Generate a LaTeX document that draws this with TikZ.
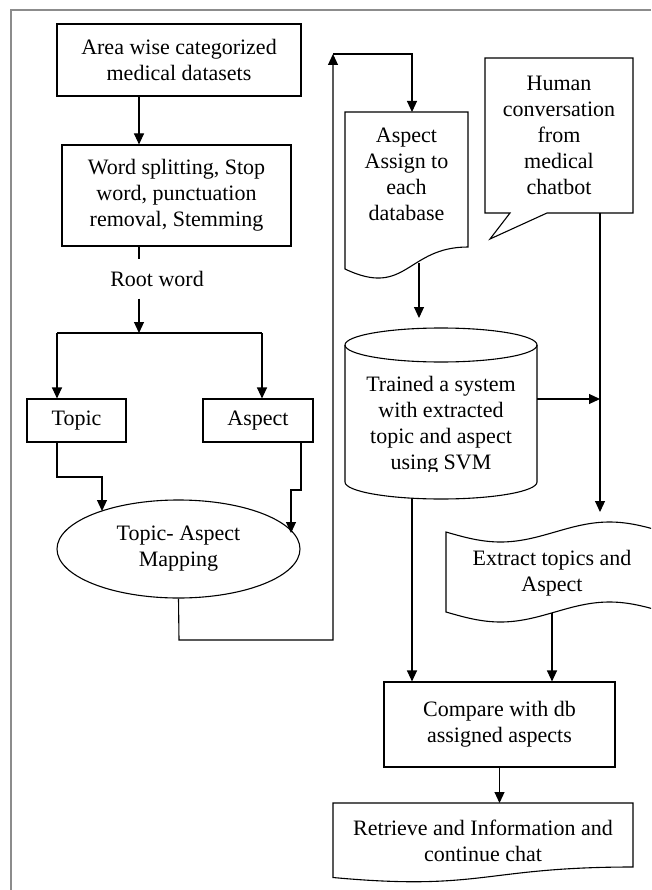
\documentclass[tikz,border=0pt]{standalone}
\usepackage{fontspec}
\setmainfont{Liberation Serif}
\usetikzlibrary{arrows.meta,shapes.geometric}
\begin{document}
\begin{tikzpicture}[x=1pt,y=-1pt,
  every node/.style={font=\fontsize{22}{26}\selectfont, inner sep=0pt, align=center},
  box/.style={draw, line width=1.1pt},
  ln/.style={line width=1.1pt},
  arr/.style={line width=1.1pt, -{Triangle[length=11pt,width=10pt]}},
  frame/.style={draw=gray!90, line width=2pt}]
\clip (0,0) rectangle (651,890);
\draw[frame] (10.5,890) -- (10.5,10) -- (651,10);

% ---- left column
\node[box, minimum width=244pt, minimum height=72pt] (b1) at (179,60) {Area wise categorized\\medical datasets};
\node[box, minimum width=229pt, minimum height=101pt] (b2) at (176.5,195.5) {Word splitting, Stop\\word, punctuation\\removal, Stemming};
\node[minimum height=39pt] (root) at (157,279) {Root word};
\node[box, minimum width=99pt, minimum height=43pt] (topic) at (76.5,420.5) {Topic};
\node[box, minimum width=110pt, minimum height=43pt] (aspect) at (258,420.5) {Aspect};
\node[box, ellipse, minimum width=243pt, minimum height=98pt] (map) at (178.5,549) {Topic- Aspect\\Mapping};

\coordinate (c139) at (139,0);
\coordinate (jc) at (139,333);
\coordinate (jl) at (57,333);
\coordinate (jr) at (262,333);
\draw[arr] (b1.south -| c139) -- (b2.north -| c139);
\draw[ln] (b2.south -| c139) -- (root.north -| c139);
\draw[arr] (root.south -| c139) -- (jc);
\draw[ln] (jl) -- (jr);
\draw[arr] (jl) -- (jl |- topic.north);
\draw[arr] (jr) -- (jr |- aspect.north);

\coordinate (t1) at (57,477);
\coordinate (t2) at (102,477);
\coordinate (t3) at (102,511);
\draw[arr] (topic.south -| t1) -- (t1) -- (t2) -- (t3);
\coordinate (a1) at (301,490);
\coordinate (a2) at (291,490);
\coordinate (a3) at (291,533);
\draw[arr] (aspect.south -| a1) -- (a1) -- (a2) -- (a3);

% ---- loop to the right column
\coordinate (l1) at (179,640);
\coordinate (l2) at (333,640);
\coordinate (l3) at (333,54);
\coordinate (l4) at (412,54);
\coordinate (l5) at (412,112);
\draw[arr] (map.south) -- (l1) -- (l2) -- (l3);
\draw[arr] (l3) -- (l4) -- (l5);

% ---- Aspect assign (document)
\draw[ln] (345,112) -- (468,112) -- (468,247) .. controls (406.5,247) and (406.5,298.3) .. (345,269) -- cycle;
\node (assign) at (406.5,174.5) {Aspect\\Assign to\\each\\database};
\coordinate (as1) at (419,263);
\coordinate (as2) at (419,318);
\draw[arr] (as1) -- (as2);

% ---- cylinder
\draw[ln] (345,345) -- (345,482) arc[start angle=180,end angle=360,x radius=96pt,y radius=17pt] -- (537,345);
\draw[ln] (441,345) ellipse [x radius=96pt, y radius=17pt];
\begin{scope}
\clip (345,362) rectangle (537,471);
\node (cyl) at (441,425.5) {Trained a system\\with extracted\\topic and aspect\\using SVM};
\end{scope}
\coordinate (h1) at (537,399);
\coordinate (h2) at (600,399);
\draw[arr] (h1) -- (h2);

% ---- Human callout
\draw[ln] (485,58) -- (633,58) -- (633,213) -- (547,213) -- (490,239) -- (510,213) -- (485,213) -- cycle;
\node (human) at (559,135) {Human\\conversation\\from\\medical\\chatbot};
\coordinate (hu1) at (600,213);
\coordinate (hu2) at (600,512);
\draw[arr] (hu1) -- (hu2);

% ---- Extract (punched tape)
\draw[ln] (446,532) sin (500.5,542) cos (555,532) sin (609.5,522) cos (664,532) -- (664,612)
  sin (609.5,602) cos (555,612) sin (500.5,622) cos (446,612) -- cycle;
\node (extract) at (552,573.5) {Extract topics and\\Aspect};

% ---- Compare
\node[box, minimum width=231pt, minimum height=85pt] (cmp) at (499.5,724.5) {Compare with db\\assigned aspects};
\coordinate (cb1) at (412,498);
\coordinate (eb1) at (552,613);
\draw[arr] (cb1) -- (cb1 |- cmp.north);
\draw[arr] (eb1) -- (eb1 |- cmp.north);

% ---- Retrieve (document)
\draw[ln] (333,803) -- (633,803) -- (633,867) .. controls (483,867) and (483,891.3) .. (333,877.5) -- cycle;
\node (ret) at (483,840.5) {Retrieve and Information and\\continue chat};
\coordinate (rt) at (499.5,803);
\draw[arr] (cmp.south) -- (rt);
\end{tikzpicture}
\end{document}
